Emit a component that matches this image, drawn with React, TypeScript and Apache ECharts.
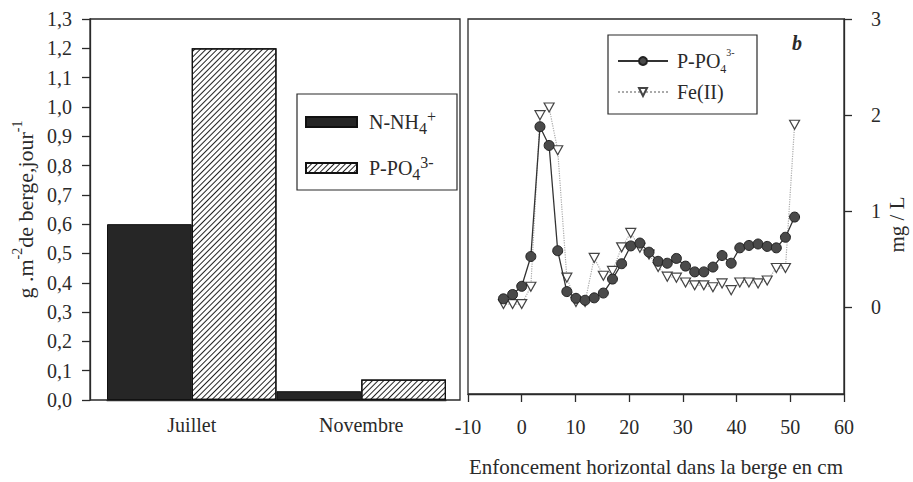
import React, { useEffect, useRef } from 'react';
import * as echarts from 'echarts';

// ---- Data (panel a: bank fluxes) ----
const categories = ['Juillet', 'Novembre'];
const nh4Flux = [0.6, 0.03];
const po4Flux = [1.2, 0.07];

// ---- Data (panel b: profiles vs horizontal depth) ----
const depthCm = [-3.4, -1.7, 0, 1.7, 3.4, 5.1, 6.7, 8.4, 10.1, 11.8, 13.5, 15.2, 16.9, 18.6, 20.3, 22.0, 23.7,
  25.4, 27.1, 28.8, 30.5, 32.2, 33.9, 35.6, 37.3, 39.0, 40.6, 42.3, 44.0, 45.7, 47.4, 49.1, 50.8];
const po4Conc = [0.09, 0.135, 0.22, 0.53, 1.88, 1.685, 0.59, 0.165, 0.095, 0.075, 0.1, 0.15, 0.295, 0.455, 0.64,
  0.67, 0.575, 0.48, 0.46, 0.51, 0.43, 0.37, 0.37, 0.42, 0.54, 0.46, 0.62, 0.645, 0.66, 0.635, 0.62, 0.73, 0.94];
const fe2Conc = [0.035, 0.035, 0.035, 0.215, 2.0, 2.08, 1.635, 0.31, 0.058, 0.058, 0.515, 0.33, 0.38, 0.625, 0.775,
  0.62, 0.55, 0.42, 0.32, 0.31, 0.26, 0.23, 0.23, 0.21, 0.25, 0.18, 0.26, 0.26, 0.25, 0.28, 0.41, 0.41, 1.9];
const rightYTicks = [0, 1, 2, 3];

const FONT = '"Liberation Serif", "Times New Roman", serif';
const INK = '#2a2a2a';

const rich = {
  m: { fontSize: 20, fontFamily: FONT, color: INK, lineHeight: 28 },
  n: { fontSize: 22, fontFamily: FONT, color: INK, lineHeight: 30 },
  sub: { fontSize: 16, fontFamily: FONT, color: INK, verticalAlign: 'bottom', lineHeight: 16 },
  sup: { fontSize: 16, fontFamily: FONT, color: INK, verticalAlign: 'top', lineHeight: 14 },
  nsup: { fontSize: 14, fontFamily: FONT, color: INK, verticalAlign: 'top', lineHeight: 13 },
  ssub: { fontSize: 12, fontFamily: FONT, color: INK, verticalAlign: 'bottom', lineHeight: 12 },
  ssup: { fontSize: 10, fontFamily: FONT, color: INK, verticalAlign: 'top', lineHeight: 10 },
};

const legendText: Record<string, string> = {
  'N-NH4+': '{m|N-NH}{sub|4}{sup|+}',
  'P-PO43-': '{m|P-PO}{sub|4}{sup|3-}',
  'P-PO43- (b)': '{m|P-PO}{ssub|4}{ssup|3-}',
  'Fe(II)': '{m|Fe(II)}',
};

export default function App() {
  const ref = useRef<HTMLDivElement>(null);
  useEffect(() => {
    const chart = echarts.init(ref.current!, null, { renderer: 'svg' });
    const axisLine = { lineStyle: { color: INK, width: 1.3 } };
    const labelStyle = { fontSize: 20, fontFamily: FONT, color: INK };
    const option: any = {
      animation: false,
      backgroundColor: '#fff',
      grid: [
        { left: 107, right: 913 - 446, top: 19, bottom: 482 - 400 },
        { left: 468, right: 913 - 844, top: 19, bottom: 482 - 401, show: true, borderColor: INK, borderWidth: 1.3 },
      ],
      xAxis: [
        {
          gridIndex: 0, type: 'category', data: categories,
          axisTick: { show: false }, axisLine: { ...axisLine, onZero: false },
          axisLabel: { ...labelStyle, margin: 15 },
        },
        {
          gridIndex: 1, type: 'value', min: -10, max: 60, interval: 10,
          axisLine: { ...axisLine, onZero: false },
          axisTick: { show: true, length: 8, lineStyle: { color: INK, width: 1.3 } },
          axisLabel: { ...labelStyle, margin: 23 },
          splitLine: { show: false },
          name: 'Enfoncement horizontal dans la berge en cm',
          nameLocation: 'middle', nameGap: 62,
          nameTextStyle: { fontSize: 21, fontFamily: FONT, color: INK },
        },
      ],
      yAxis: [
        {
          gridIndex: 0, type: 'value', min: 0, max: 1.3, interval: 0.1, offset: 17,
          axisLine: { show: true, onZero: false, ...axisLine },
          axisTick: { show: true, length: 8, lineStyle: { color: INK, width: 1.3 } },
          axisLabel: { ...labelStyle, margin: 18, formatter: (v: number) => v.toFixed(1).replace('.', ',') },
          splitLine: { show: false },
          name: '{n|g .m}{nsup|-2}{n|de berge,jour}{nsup|-1}',
          nameLocation: 'middle', nameGap: 50,
          nameTextStyle: { rich },
        },
        {
          gridIndex: 1, type: 'value', position: 'right', min: -0.9, max: 3,
          axisLine: { show: true, onZero: false, ...axisLine },
          axisTick: { show: true, length: 8, customValues: rightYTicks, lineStyle: { color: INK, width: 1.3 } },
          axisLabel: { ...labelStyle, margin: 27, customValues: rightYTicks },
          splitLine: { show: false },
          name: 'mg / L', nameLocation: 'middle', nameGap: 42,
          nameTextStyle: { fontSize: 21, fontFamily: FONT, color: INK, padding: [0, 36, 0, 0] },
        },
      ],
      legend: [
        {
          data: ['N-NH4+', 'P-PO43-'], orient: 'vertical', left: 305, top: 108, padding: 0,
          itemWidth: 51, itemHeight: 10, itemGap: 18, icon: 'rect', selectedMode: false,
          formatter: (n: string) => legendText[n] || n,
          textStyle: { rich, padding: [0, 0, 0, 7] },
        },
        {
          data: ['P-PO43- (b)', 'Fe(II)'], orient: 'vertical', left: 617, top: 47, padding: 0,
          itemWidth: 50, itemHeight: 10, itemGap: 7, selectedMode: false,
          formatter: (n: string) => legendText[n] || n,
          textStyle: { rich, padding: [0, 0, 0, 4] },
        },
      ],
      series: [
        {
          name: 'N-NH4+', type: 'bar', xAxisIndex: 0, yAxisIndex: 0, data: nh4Flux,
          barGap: '0%', barCategoryGap: '0%',
          itemStyle: { color: '#262626', borderColor: '#111', borderWidth: 1 },
        },
        {
          name: 'P-PO43-', type: 'bar', xAxisIndex: 0, yAxisIndex: 0, data: po4Flux,
          barGap: '0%', barCategoryGap: '0%',
          itemStyle: {
            color: '#fff', borderColor: '#111', borderWidth: 1.2,
            decal: { symbol: 'rect', symbolSize: 1, color: '#222', dashArrayX: [1, 0], dashArrayY: [1, 2.1], rotation: -Math.PI / 4 },
          },
        },
        {
          name: 'Fe(II)', type: 'line', xAxisIndex: 1, yAxisIndex: 1, z: 2,
          data: depthCm.map((x, i) => [x, fe2Conc[i]]),
          symbol: 'triangle', symbolRotate: 180, symbolSize: [10, 9],
          itemStyle: { color: '#fff', borderColor: '#444', borderWidth: 1.2 },
          lineStyle: { color: '#aaa', width: 1.2, type: 'dotted' },
        },
        {
          name: 'P-PO43- (b)', type: 'line', xAxisIndex: 1, yAxisIndex: 1, z: 3,
          data: depthCm.map((x, i) => [x, po4Conc[i]]),
          symbol: 'circle', symbolSize: 10,
          itemStyle: { color: '#4a4a4a', borderColor: '#222', borderWidth: 1 },
          lineStyle: { color: '#333', width: 1.3 },
        },
      ],
      graphic: [
        { type: 'rect', silent: true, shape: { x: 90, y: 19, width: 370, height: 381 }, style: { fill: 'none', stroke: INK, lineWidth: 1.3 } },
        { type: 'rect', silent: true, shape: { x: 297, y: 94, width: 160, height: 96 }, style: { fill: 'none', stroke: INK, lineWidth: 1.2 } },
        { type: 'rect', silent: true, shape: { x: 608, y: 35, width: 149, height: 79 }, style: { fill: 'none', stroke: INK, lineWidth: 1.2 } },
        { type: 'text', x: 797, y: 43, style: { text: 'b', font: `italic bold 20px ${FONT}`, fill: INK, align: 'center', verticalAlign: 'middle' } },
      ],
    };
    chart.setOption(option);
    return () => chart.dispose();
  }, []);
  return <div ref={ref} style={{ position: 'fixed', left: 0, top: 0, width: 913, height: 482, background: '#fff' }} />;
}
